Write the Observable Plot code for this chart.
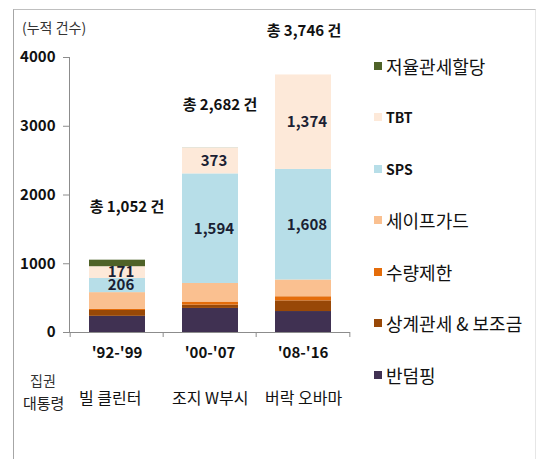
<!DOCTYPE html>
<html>
<head>
<meta charset="utf-8">
<script src="https://cdn.jsdelivr.net/npm/d3@7"></script>
<script src="https://cdn.jsdelivr.net/npm/@observablehq/plot@0.6"></script>
<style>
  body { margin: 0; background: #fff; font-family: "Noto Sans CJK KR", "Noto Sans", sans-serif; }
  #wrap { position: relative; width: 539px; height: 459px; overflow: hidden; background: #fff; }
  #box { position: absolute; left: 13px; top: 9px; width: 521px; height: 470px; border-left: 1.5px solid #a6a6a6; border-top: 1px solid #bfbfbf; border-right: 1px solid #e6e6e6; }
  #chart { position: absolute; left: 0; top: 0; }
  .ann { position: absolute; color: #111; white-space: nowrap; line-height: 1; }
  #unit { left: 22px; top: 20px; font-size: 14px; color: #333; }
  #rule1 { left: 30px; top: 373px; font-size: 14px; color: #333; }
  #rule2 { left: 23px; top: 395px; font-size: 15px; color: #222; }
  #legend { position: absolute; left: 374px; top: 40px; }
  .li { height: 51.5px; display: flex; align-items: center; font-size: 18px; color: #111; }
  .sw { width: 8px; height: 8px; margin-right: 4px; flex: none; }
  .li.latin { font-size: 14px; font-weight: bold; }
</style>
</head>
<body>
<div id="wrap">
  <div id="box"></div>
  <div id="chart"></div>
  <div class="ann" id="unit">(누적 건수)</div>
  <div class="ann" id="rule1">집권</div>
  <div class="ann" id="rule2">대통령</div>
  <div id="legend"></div>
</div>
<script>
// ---- data ----
const periods = ["'92-'99", "'00-'07", "'08-'16"];
const presidents = ["빌 클린터", "조지 W부시", "버락 오바마"];
const types = ["반덤핑", "상계관세 & 보조금", "수량제한", "세이프가드", "SPS", "TBT", "저율관세할당"];
const colors = ["#403152", "#984807", "#e46c0a", "#fac090", "#b7dee8", "#fde9d9", "#4f6228"];
const antiDumping    = [235, 350, 305];
const countervailing = [85, 48, 155];
const quantRestr     = [20, 45, 60];
const safeguard      = [240, 270, 244];
const sps            = [206, 1594, 1608];
const tbt            = [171, 373, 1374];
const trq            = [95, 2, 0];
const totals         = [1052, 2682, 3746];
const labeledTypes   = ["SPS", "TBT"];
const yTicks         = [0, 1000, 2000, 3000, 4000];

// ---- build table ----
const series = [antiDumping, countervailing, quantRestr, safeguard, sps, tbt, trq];
const rows = periods.flatMap((p, i) => types.map((t, j) => ({period: p, type: t, value: series[j][i]})));
const totalRows = periods.map((p, i) => ({period: p, total: totals[i], i}));
const presRows = periods.map((p, i) => ({period: p, name: presidents[i]}));
const fmt = d3.format(",");

const W = 539, H = 459, mt = 57, mb = 127, ml = 69, mr = 189;
const step = (W - ml - mr) / periods.length;
const font = '"Noto Sans CJK KR", "Noto Sans", sans-serif';

const chart = Plot.plot({
  width: W, height: H,
  marginTop: mt, marginBottom: mb, marginLeft: ml, marginRight: mr,
  x: {domain: periods, padding: 0, axis: null},
  y: {domain: [0, 4000], axis: null},
  color: {domain: types, range: colors},
  style: {fontFamily: font, background: "transparent", overflow: "visible"},
  marks: [
    Plot.barY(rows, Plot.stackY({x: "period", y: "value", z: "type", fill: "type", order: null, insetLeft: 19, insetRight: 18})),
    Plot.text(rows, Plot.stackY({x: "period", y: "value", z: "type", order: null,
      text: d => labeledTypes.includes(d.type) ? fmt(d.value) : null,
      dx: 4, fontSize: 15, fontWeight: "bold", fill: "#1b1f33"})),
    Plot.frame({anchor: "left", stroke: "#8c8c8c"}),
    Plot.ruleY([0], {stroke: "#8c8c8c"}),
    Plot.ruleX(periods, {x: d => d, y1: 0, y2: 0, insetBottom: -5, dx: -step / 2, stroke: "#8c8c8c"}),
    Plot.ruleX(periods.slice(-1), {x: d => d, y1: 0, y2: 0, insetBottom: -5, dx: step / 2, stroke: "#8c8c8c"}),
    Plot.axisY({ticks: yTicks, tickSize: 6, tickPadding: 8, tickFormat: d => String(d), fontSize: 15, fontWeight: "bold", stroke: "#8c8c8c", fill: "#111"}),
    Plot.text(periods, {x: d => d, frameAnchor: "bottom", dy: 25, fontSize: 15, fontWeight: "bold", fill: "#111"}),
    Plot.text(presRows, {x: "period", text: "name", frameAnchor: "bottom", textAnchor: "start", dx: -38, dy: 71, fontSize: 16, fill: "#111"}),
    Plot.text(totalRows.filter(d => d.i === 0), {x: "period", y: "total", text: d => `총 ${fmt(d.total)} 건`, dx: 10, dy: -53, fontSize: 15, fontWeight: "bold", fill: "#111"}),
    Plot.text(totalRows.filter(d => d.i === 1), {x: "period", y: "total", text: d => `총 ${fmt(d.total)} 건`, dx: 10, dy: -43, fontSize: 15, fontWeight: "bold", fill: "#111"}),
    Plot.text(totalRows.filter(d => d.i === 2), {x: "period", y: "total", text: d => `총 ${fmt(d.total)} 건`, dx: 1, dy: -44, fontSize: 15, fontWeight: "bold", fill: "#111"})
  ]
});
document.getElementById("chart").appendChild(chart);

// ---- legend (top to bottom = reverse stacking order) ----
const legend = document.getElementById("legend");
types.map((t, j) => ({t, c: colors[j]})).reverse().forEach(({t, c}) => {
  const row = document.createElement("div");
  row.className = "li" + (/^[A-Z]+$/.test(t) ? " latin" : "");
  const sw = document.createElement("span");
  sw.className = "sw";
  sw.style.background = c;
  const lab = document.createElement("span");
  lab.textContent = t;
  row.appendChild(sw);
  row.appendChild(lab);
  legend.appendChild(row);
});
</script>
</body>
</html>
